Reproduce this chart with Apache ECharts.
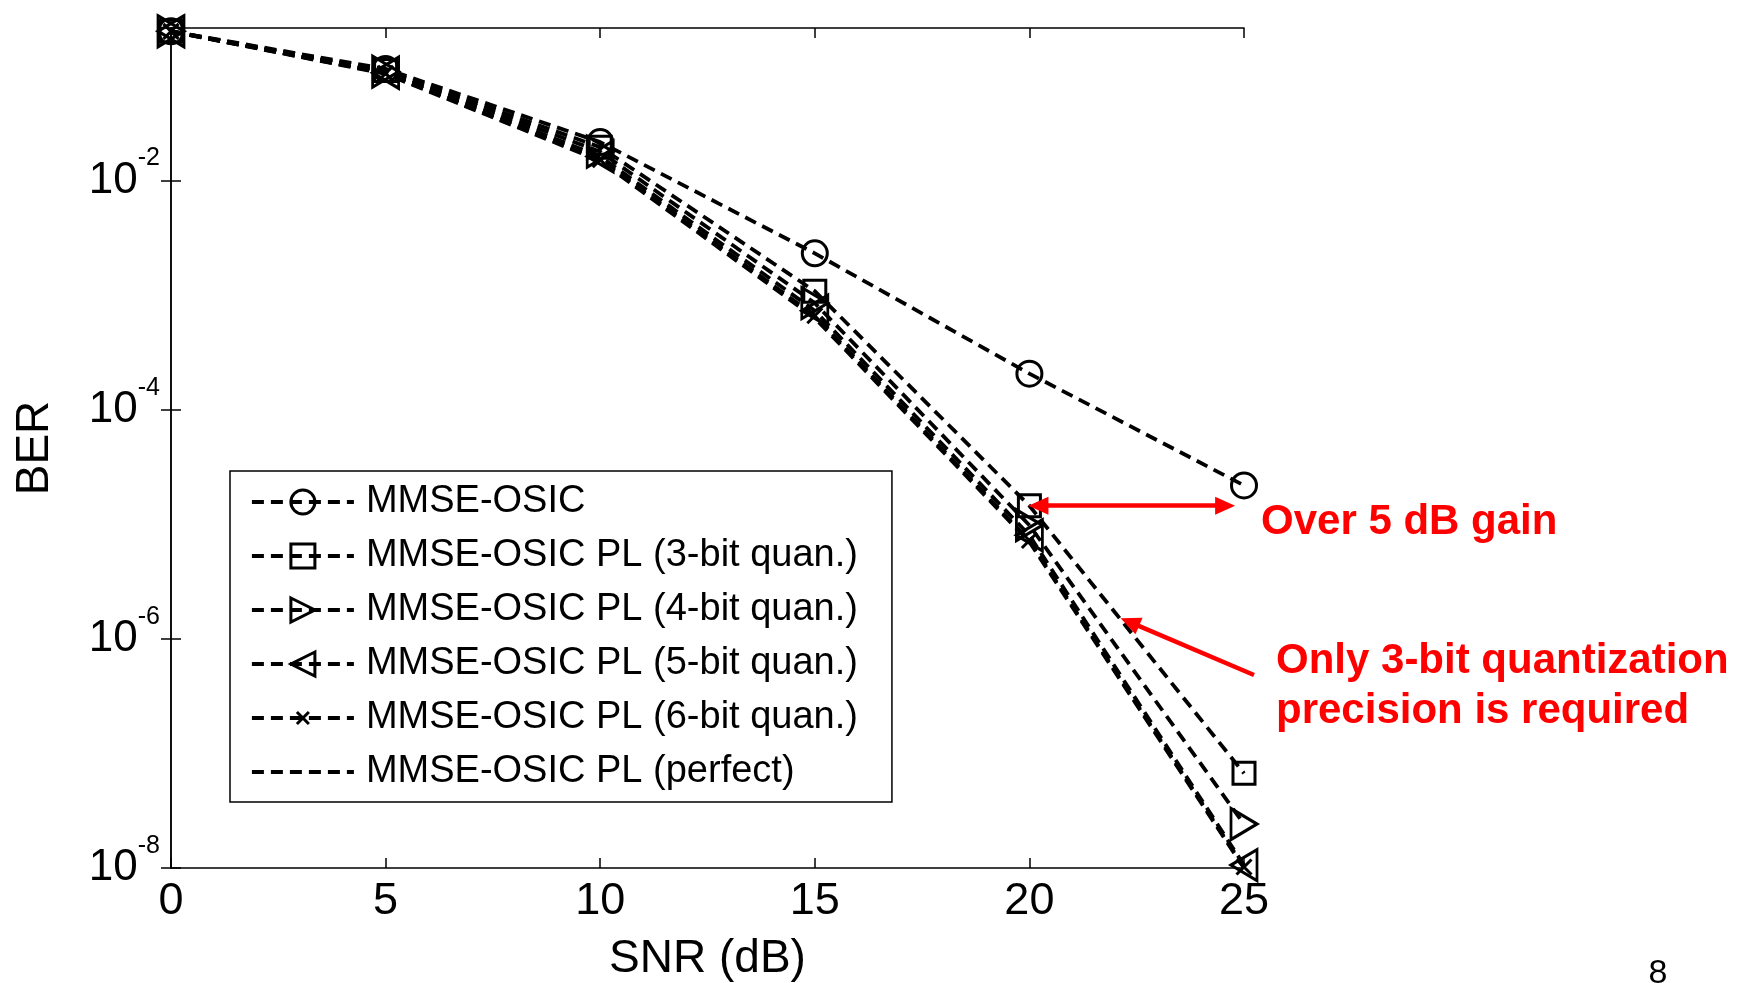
<!DOCTYPE html>
<html>
<head>
<meta charset="utf-8">
<script src="https://cdn.jsdelivr.net/npm/echarts@6/dist/echarts.min.js"></script>
<style>
html,body{margin:0;padding:0;background:#fff;}
#chart{width:1753px;height:983px;}
</style>
</head>
<body>
<div id="chart"></div>
<script>
// ---- data (BER values) ----
const snrDb = [0, 5, 10, 15, 20, 25];
const berMmseOsic   = [0.20, 0.094, 0.0216, 2.31e-3, 2.06e-4, 2.18e-5];
const berPl3bit     = [0.20, 0.091, 0.0195, 1.08e-3, 1.45e-5, 6.7e-8];
const berPl4bit     = [0.20, 0.089, 0.0178, 8.5e-4, 9.8e-6, 2.42e-8];
const berPl5bit     = [0.20, 0.087, 0.0162, 7.3e-4, 8.0e-6, 1.06e-8];
const berPl6bit     = [0.20, 0.086, 0.0152, 6.6e-4, 7.2e-6, 1.02e-8];
const berPlPerfect  = [0.20, 0.085, 0.0148, 6.3e-4, 7.0e-6, 1.0e-8];
const seriesNames = [
  'MMSE-OSIC',
  'MMSE-OSIC PL (3-bit quan.)',
  'MMSE-OSIC PL (4-bit quan.)',
  'MMSE-OSIC PL (5-bit quan.)',
  'MMSE-OSIC PL (6-bit quan.)',
  'MMSE-OSIC PL (perfect)'
];
const xTicks = [0, 5, 10, 15, 20, 25];
const yTickExponents = [-8, -6, -4, -2];
// annotation anchors (SNR dB, BER)
const gainArrowFrom = [20.21, 1.45e-5];
const gainArrowTo = [24.56, 1.45e-5];
const precisionArrowHead = [22.34, 1.40e-6];
const gainText = 'Over 5 dB gain';
const precisionText = ['Only 3-bit quantization', 'precision is required'];
const pageNumber = '8';

// ---- styling ----
const FONT = "'Liberation Sans', Arial, Helvetica, sans-serif";
const allBer = [berMmseOsic, berPl3bit, berPl4bit, berPl5bit, berPl6bit, berPlPerfect];
const markerDefs = [
  { symbol: 'circle', size: 25 },
  { symbol: 'rect', size: 22 },
  { symbol: 'path://M0,0L10,6L0,12Z', size: [26, 31] },
  { symbol: 'path://M10,0L0,6L10,12Z', size: [26, 31] },
  { symbol: 'path://M0,0M20,20M5,5L15,15M15,5L5,15', size: 30 },
  { symbol: 'circle', size: 1, hidden: true }
];
const dash = [12, 7];

const series = allBer.map((ber, i) => {
  const m = markerDefs[i];
  return {
    name: seriesNames[i],
    type: 'line',
    xAxisIndex: 0,
    yAxisIndex: 0,
    data: snrDb.map((x, k) => [x, Math.log10(ber[k])]),
    symbol: m.symbol,
    symbolSize: m.size,
    showSymbol: !m.hidden,
    lineStyle: { color: '#000', width: 3.8, type: dash },
    itemStyle: {
      color: 'transparent',
      borderColor: m.hidden ? 'transparent' : '#000',
      borderWidth: m.hidden ? 0 : 3
    },
    emphasis: { disabled: true },
    z: 3 + i
  };
});

series.push({
  name: '__annotations',
  type: 'line',
  data: [],
  clip: false,
  silent: true,
  markLine: {
    silent: true,
    animation: false,
    symbolSize: [18, 20],
    lineStyle: { color: '#ff0000', width: 4.5, type: 'solid' },
    itemStyle: { color: '#ff0000' },
    label: { show: false },
    emphasis: { disabled: true },
    data: [
      [
        { coord: [gainArrowFrom[0], Math.log10(gainArrowFrom[1])], symbol: 'triangle' },
        { coord: [gainArrowTo[0], Math.log10(gainArrowTo[1])], symbol: 'triangle' }
      ],
      [
        { x: 1254, y: 675, symbol: 'none' },
        { coord: [precisionArrowHead[0], Math.log10(precisionArrowHead[1])], symbol: 'triangle' }
      ]
    ]
  }
});

const axisLineStyle = { color: '#000', width: 1.5 };
const yMin = yTickExponents[0];
const yMax = -0.67;

const option = {
  animation: false,
  backgroundColor: '#fff',
  grid: { left: 171, right: 509, top: 28, bottom: 115, outerBoundsMode: 'none', containLabel: false },
  xAxis: [
    {
      type: 'value', position: 'bottom', min: xTicks[0], max: xTicks[xTicks.length - 1], interval: 5,
      name: 'SNR (dB)', nameLocation: 'middle', nameGap: 68,
      nameTextStyle: { fontFamily: FONT, fontSize: 46, color: '#000' },
      axisLine: { show: true, lineStyle: axisLineStyle },
      axisTick: { show: true, inside: true, length: 10, lineStyle: axisLineStyle },
      axisLabel: { show: true, margin: 11, fontFamily: FONT, fontSize: 45, color: '#000' },
      splitLine: { show: false }
    },
    {
      type: 'value', position: 'top', min: xTicks[0], max: xTicks[xTicks.length - 1], interval: 5,
      axisLine: { show: true, lineStyle: axisLineStyle },
      axisTick: { show: true, inside: true, length: 10, lineStyle: axisLineStyle },
      axisLabel: { show: false },
      splitLine: { show: false }
    }
  ],
  yAxis: [
    {
      type: 'value', position: 'left', min: yMin, max: yMax, interval: 2,
      name: 'BER', nameLocation: 'middle', nameGap: 113,
      nameTextStyle: { fontFamily: FONT, fontSize: 46, color: '#000' },
      axisLine: { show: true, lineStyle: axisLineStyle },
      axisTick: { show: true, inside: true, length: 10, lineStyle: axisLineStyle },
      axisLabel: {
        show: true, margin: 11, color: '#000',
        formatter: function (v) {
          if (Math.abs(v - Math.round(v)) > 1e-6) return '';
          return '{b|10}{s|' + Math.round(v) + '}';
        },
        rich: {
          b: { fontFamily: FONT, fontSize: 44, lineHeight: 44, color: '#000', verticalAlign: 'middle' },
          s: { fontFamily: FONT, fontSize: 25, lineHeight: 25, color: '#000', verticalAlign: 'middle', padding: [0, 0, 44, 0] }
        }
      },
      splitLine: { show: false }
    },
    {
      type: 'value', position: 'right', min: yMin, max: yMax, interval: 2,
      axisLine: { show: true, lineStyle: axisLineStyle },
      axisTick: { show: true, inside: true, length: 10, lineStyle: axisLineStyle },
      axisLabel: { show: false },
      splitLine: { show: false }
    }
  ],
  legend: {
    show: true,
    orient: 'vertical',
    left: 230,
    top: 471,
    data: seriesNames,
    itemWidth: 102,
    itemHeight: 30,
    itemGap: 16,
    padding: [12, 34, 11, 20],
    borderColor: '#000',
    borderWidth: 1.5,
    borderRadius: 0,
    backgroundColor: '#fff',
    selectedMode: false,
    textStyle: { fontFamily: FONT, fontSize: 38, color: '#000', padding: [0, 0, 0, 7] },
    itemStyle: { borderWidth: 3 },
    lineStyle: { width: 3.8 },
    z: 10
  },
  graphic: [
    {
      type: 'text', x: 1261, y: 522, z: 20,
      style: { text: gainText, fontFamily: FONT, fontSize: 42, fontWeight: 'bold', fill: '#ff0000', align: 'left', verticalAlign: 'middle' }
    },
    {
      type: 'text', x: 1276, y: 686, z: 20,
      style: { text: precisionText.join('\n'), fontFamily: FONT, fontSize: 42, lineHeight: 50, fontWeight: 'bold', fill: '#ff0000', align: 'left', verticalAlign: 'middle' }
    },
    {
      type: 'text', x: 1658, y: 957, z: 20,
      style: { text: pageNumber, fontFamily: FONT, fontSize: 34, fill: '#000', align: 'center', verticalAlign: 'top' }
    }
  ],
  series: series
};

const chart = echarts.init(document.getElementById('chart'), null, { renderer: 'canvas', width: 1753, height: 983 });
chart.setOption(option);
</script>
</body>
</html>
